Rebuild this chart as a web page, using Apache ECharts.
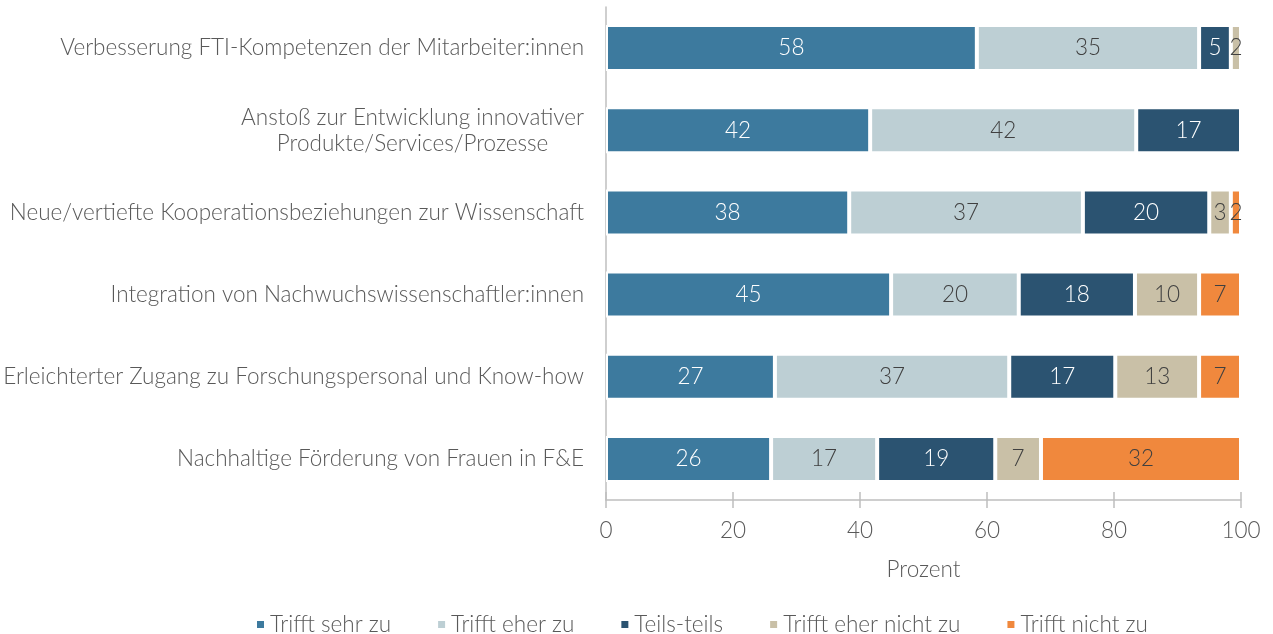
<!DOCTYPE html>
<html>
<head>
<meta charset="utf-8">
<script src="https://cdn.jsdelivr.net/npm/echarts@6/dist/echarts.min.js"></script>
<style>html,body{margin:0;padding:0;background:#fff}#c{width:1273px;height:634px}</style>
</head>
<body>
<div id="c"></div>
<script>
const categories = [
  'Verbesserung FTI-Kompetenzen der Mitarbeiter:innen',
  'Anstoß zur Entwicklung innovativer\nProdukte/Services/Prozesse',
  'Neue/vertiefte Kooperationsbeziehungen zur Wissenschaft',
  'Integration von Nachwuchswissenschaftler:innen',
  'Erleichterter Zugang zu Forschungspersonal und Know-how',
  'Nachhaltige Förderung von Frauen in F&E'
];
const seriesNames = ['Trifft sehr zu', 'Trifft eher zu', 'Teils-teils', 'Trifft eher nicht zu', 'Trifft nicht zu'];
const trifftSehrZu = [58.4, 41.6, 38.3, 44.9, 26.6, 26.0];
const trifftEherZu = [35.0, 41.9, 36.8, 20.1, 36.9, 16.7];
const teilsTeils = [5.0, 16.5, 19.9, 18.3, 16.7, 18.6];
const trifftEherNichtZu = [1.6, 0, 3.4, 10.1, 13.2, 7.2];
const trifftNichtZu = [0, 0, 1.6, 6.6, 6.6, 31.5];
const xTicks = [0, 20, 40, 60, 80, 100];

const values = [trifftSehrZu, trifftEherZu, teilsTeils, trifftEherNichtZu, trifftNichtZu];
const colors = ['#3D7A9E', '#BDCFD4', '#2B5371', '#C9C0A7', '#F0883D'];
const labelColors = ['#ffffff', '#404040', '#ffffff', '#404040', '#404040'];
const FONT = 'Lato';
const FS = 22.5;

const chart = echarts.init(document.getElementById('c'), null, {renderer: 'canvas'});
const series = values.map((arr, i) => ({
  name: seriesNames[i],
  type: 'bar',
  stack: 'total',
  xAxisIndex: 0,
  barWidth: 46,
  data: arr,
  itemStyle: {color: colors[i], borderColor: '#ffffff', borderWidth: 2},
  label: {
    show: true,
    position: 'inside',
    color: labelColors[i],
    fontFamily: FONT,
    fontWeight: 300,
    fontSize: FS,
    formatter: p => p.value ? String(Math.round(p.value)) : ''
  },
  emphasis: {disabled: true}
}));

chart.setOption({
  animation: false,
  textStyle: {fontFamily: FONT},
  grid: {left: 606, right: 32, top: 7, bottom: 134, containLabel: false},
  xAxis: [{
    type: 'value', min: 0, max: 100, interval: 20,
    position: 'bottom',
    axisLine: {show: true, lineStyle: {color: '#BFBFBF', width: 1.5}},
    axisTick: {show: true, length: 8, lineStyle: {color: '#BFBFBF', width: 1.5}},
    axisLabel: {color: '#595959', fontFamily: FONT, fontWeight: 300, fontSize: FS, margin: 19,
      formatter: v => xTicks.includes(v) ? String(v) : ''},
    splitLine: {show: false},
    name: 'Prozent', nameLocation: 'middle', nameGap: 58,
    nameTextStyle: {color: '#595959', fontFamily: FONT, fontWeight: 300, fontSize: FS}
  }, {
    type: 'value', min: 0, max: 100, interval: 20,
    position: 'bottom',
    axisLine: {show: false},
    axisTick: {show: true, inside: true, length: 8, lineStyle: {color: '#BFBFBF', width: 1.5}},
    axisLabel: {show: false},
    splitLine: {show: false}
  }],
  yAxis: {
    type: 'category', data: categories, inverse: true,
    axisLine: {show: true, lineStyle: {color: '#BFBFBF', width: 1.5}},
    axisTick: {show: false},
    axisLabel: {
      color: '#595959', fontFamily: FONT, fontWeight: 300, fontSize: FS, margin: 22,
      lineHeight: 26,
      formatter: v => v.split('\n').map(s => '{c|' + s + '}').join('\n'),
      rich: {c: {align: 'center', color: '#595959', fontFamily: FONT, fontWeight: 300, fontSize: FS, lineHeight: 26}}
    }
  },
  legend: {
    data: seriesNames,
    top: 608, left: 250,
    icon: 'rect', itemWidth: 9, itemHeight: 9, itemGap: 45,
    textStyle: {color: '#595959', fontFamily: FONT, fontWeight: 300, fontSize: FS}
  },
  series: series
});
</script>
</body>
</html>
